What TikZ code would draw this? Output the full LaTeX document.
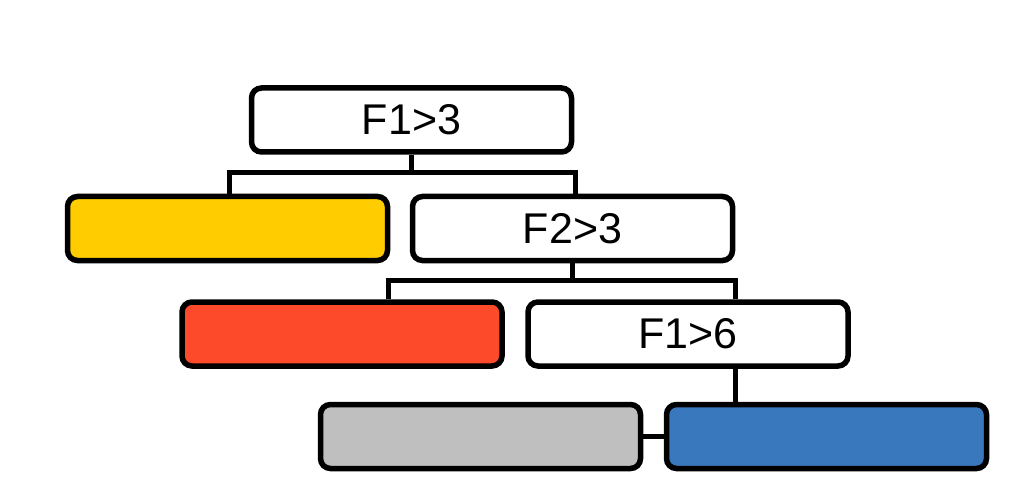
\documentclass[tikz,border=0pt]{standalone}
\usepackage{fontspec}
\setmainfont{Liberation Sans}
\definecolor{leafyellow}{HTML}{FFCC00}
\definecolor{leafred}{HTML}{FC4A2A}
\definecolor{leafgray}{HTML}{BFBFBF}
\definecolor{leafblue}{HTML}{3A78BE}
\begin{document}
\begin{tikzpicture}[x=1pt,y=1pt,
  box/.style={draw=black, line width=5.5pt, rounded corners=10pt,
    minimum width=320pt, minimum height=64pt, inner sep=0pt},
  test/.style={box, fill=white, font=\fontsize{43}{50}\selectfont},
  link/.style={line width=5pt}]
\useasboundingbox (0,0) rectangle (1012,488);

% decision nodes and leaves
\node[test] (t1) at (411.5,368) {F1>3};
\node[box, fill=leafyellow] (yl) at (227.5,259.5) {};
\node[test] (t2) at (572.5,259.5) {F2>3};
\node[box, fill=leafred] (rd) at (342,154) {};
\node[test] (t3) at (688,154) {F1>6};
\node[box, fill=leafgray] (gy) at (480.5,51.5) {};
\node[box, fill=leafblue] (bl) at (826.5,51.5) {};

% branch junctions
\coordinate (j1l) at (229,315);
\coordinate (j1r) at (575,315);
\coordinate (j2l) at (388,208);
\coordinate (j2r) at (735,208);

% connectors
\draw[link] (t1.south) -- (t1.south |- j1l);
\draw[link] (yl.north -| j1l) |- (j1r) -- (t2.north -| j1r);
\draw[link] (t2.south) -- (t2.south |- j2l);
\draw[link] (rd.north -| j2l) |- (j2r) -- (t3.north -| j2r);
\draw[link] (t3.south -| j2r) -- (bl.north -| j2r);
\draw[link] (gy.east) -- (bl.west);
\end{tikzpicture}
\end{document}
